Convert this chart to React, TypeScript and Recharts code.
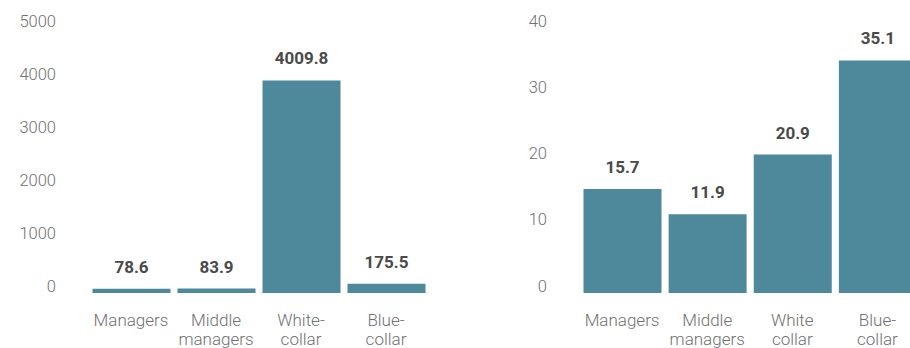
import { BarChart, Bar, XAxis, YAxis, LabelList } from "recharts";

const leftCategories = ["Managers", "Middle\nmanagers", "White-\ncollar", "Blue-\ncollar"];
const leftValues = [78.6, 83.9, 4009.8, 175.5];
const leftTicks = [0, 1000, 2000, 3000, 4000, 5000];

const rightCategories = ["Managers", "Middle\nmanagers", "White\ncollar", "Blue-\ncollar"];
const rightValues = [15.7, 11.9, 20.9, 35.1];
const rightTicks = [0, 10, 20, 30, 40];

const BAR_COLOR = "#4d889b";
const FONT = "Roboto, 'Open Sans', sans-serif";

const leftData = leftCategories.map((name, i) => ({ name, value: leftValues[i] }));
const rightData = rightCategories.map((name, i) => ({ name, value: rightValues[i] }));

const YTick = (props: any) => {
  const { x, y, payload } = props;
  return (
    <text
      x={x}
      y={y - 7}
      textAnchor="end"
      dominantBaseline="central"
      fontFamily={FONT}
      fontWeight={300}
      fontSize={16.5}
      fill="#707070"
    >
      {payload.value}
    </text>
  );
};

const XTick = (props: any) => {
  const { x, y, payload } = props;
  const lines = String(payload.value).split("\n");
  return (
    <text
      textAnchor="middle"
      fontFamily={FONT}
      fontWeight={300}
      fontSize={17}
      fill="#707070"
    >
      {lines.map((line, i) => (
        <tspan key={i} x={x} y={y + 27 + i * 18.5} dominantBaseline="central">
          {line}
        </tspan>
      ))}
    </text>
  );
};

interface PanelProps {
  data: { name: string; value: number }[];
  ticks: number[];
  width: number;
  axisWidth: number;
  rightMargin: number;
}

const Panel = ({ data, ticks, width, axisWidth, rightMargin }: PanelProps) => (
  <BarChart
    width={width}
    height={348}
    data={data}
    margin={{ top: 28, right: rightMargin, left: 0, bottom: 0 }}
  >
    <XAxis
      dataKey="name"
      axisLine={false}
      tickLine={false}
      tickSize={0}
      tickMargin={0}
      height={55}
      interval={0}
      tick={<XTick />}
    />
    <YAxis
      domain={[ticks[0], ticks[ticks.length - 1]]}
      ticks={ticks}
      axisLine={false}
      tickLine={false}
      tickSize={0}
      tickMargin={32.5}
      width={axisWidth}
      interval={0}
      tick={<YTick />}
    />
    <Bar dataKey="value" fill={BAR_COLOR} barSize={78} isAnimationActive={false}>
      <LabelList
        dataKey="value"
        position="top"
        offset={16}
        fontFamily={FONT}
        fontWeight={700}
        fontSize={17}
        fill="#4a4a4a"
      />
    </Bar>
  </BarChart>
);

export default function App() {
  return (
    <div
      style={{
        position: "absolute",
        left: 0,
        top: 0,
        width: 910,
        height: 348,
        overflow: "hidden",
        background: "#fff",
      }}
    >
      <div style={{ position: "absolute", left: 0, top: 0 }}>
        <Panel data={leftData} ticks={leftTicks} width={440} axisWidth={88.5} rightMargin={11.5} />
      </div>
      <div style={{ position: "absolute", left: 450, top: 0 }}>
        <Panel data={rightData} ticks={rightTicks} width={470} axisWidth={129.5} rightMargin={0} />
      </div>
    </div>
  );
}
